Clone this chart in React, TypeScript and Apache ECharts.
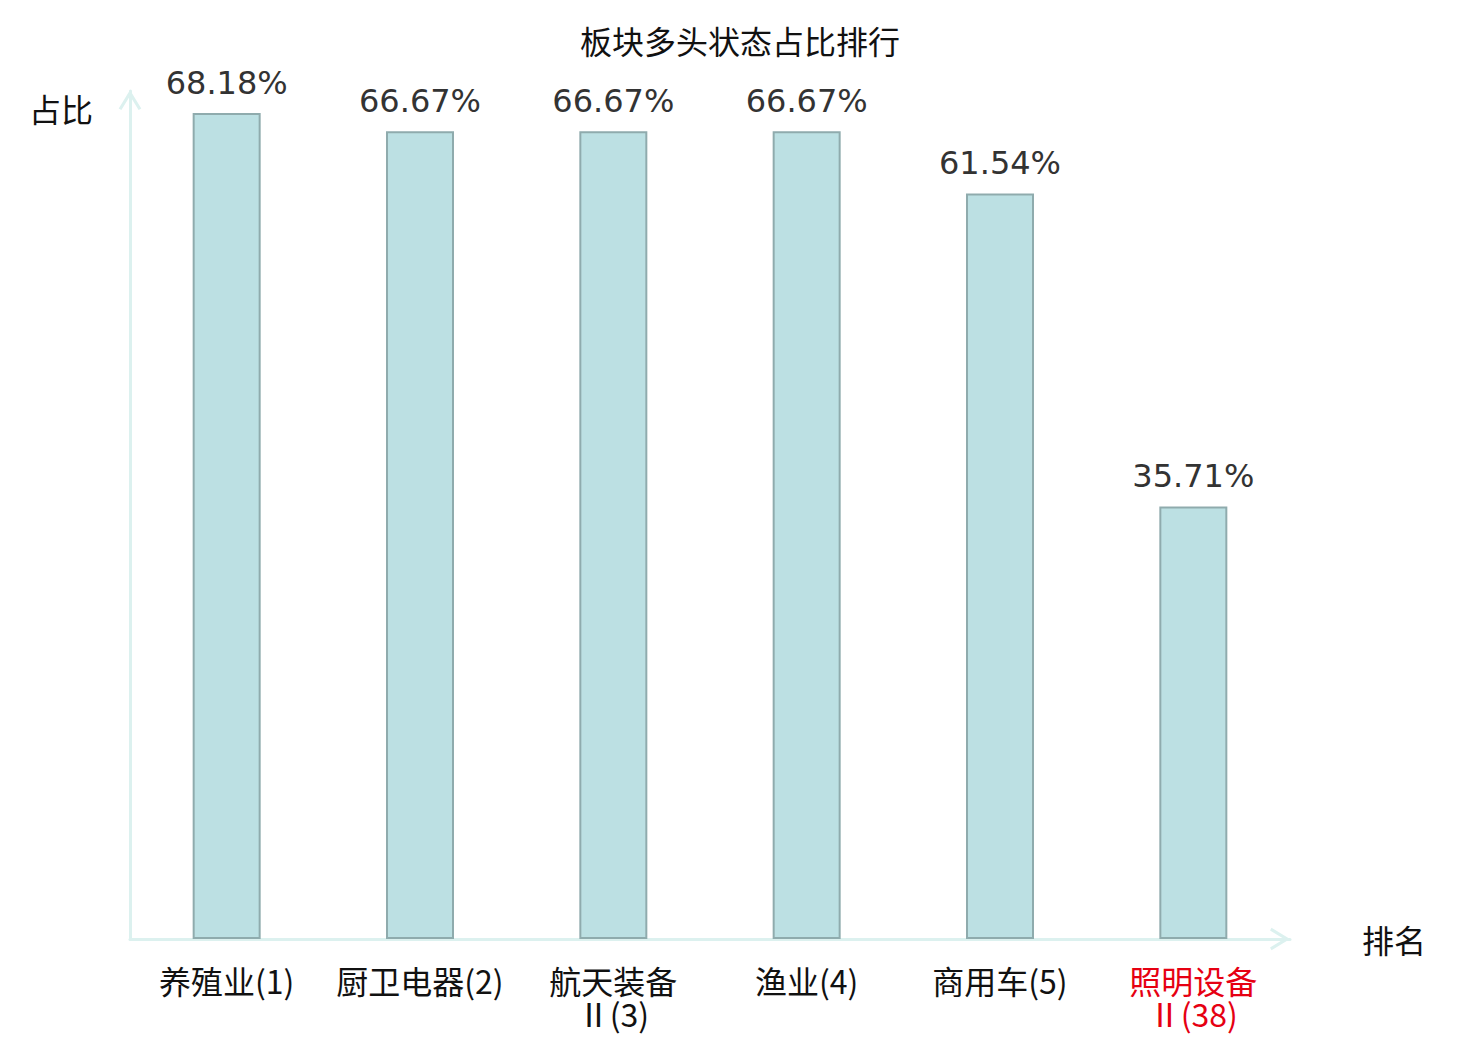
import React, { useEffect, useRef } from "react";
import * as echarts from "echarts";

const titleText = "板块多头状态占比排行";
const categories = ["养殖业(1)", "厨卫电器(2)", "航天装备Ⅱ(3)", "渔业(4)", "商用车(5)", "照明设备Ⅱ(38)"];
const values = [68.18, 66.67, 66.67, 66.67, 61.54, 35.71];
const highlightIndex = 5;
const xName = "排名";
const yName = "占比";

const arrowPath = "path://M12,0 L23,18 L20.4,19.5 L12,5.8 L3.6,19.5 L1,18 Z";
const axisColor = "#dcf1ef";
const cjk = "'Noto Sans CJK SC', sans-serif";

export default function App() {
  const ref = useRef<HTMLDivElement>(null);
  useEffect(() => {
    document.body.style.margin = "0";
    const chart = echarts.init(ref.current!, null, { renderer: "svg" });
    chart.setOption({
      animation: false,
      title: {
        text: titleText,
        left: "center",
        top: 24,
        padding: 0,
        textStyle: { fontFamily: cjk, fontSize: 32, fontWeight: "normal", color: "#111" },
      },
      grid: { left: 130, right: 190, top: 91, bottom: 101, containLabel: false },
      xAxis: {
        type: "category",
        data: categories.map((c, i) =>
          i === highlightIndex ? { value: c, textStyle: { color: "#e60012" } } : c
        ),
        name: xName,
        nameLocation: "end",
        nameGap: 72,
        nameTextStyle: { fontFamily: cjk, fontSize: 32, color: "#111", verticalAlign: "middle" },
        axisLine: {
          show: true,
          lineStyle: { color: axisColor, width: 3 },
          symbol: ["none", arrowPath],
          symbolSize: [24, 20],
          symbolOffset: [0, -10],
        },
        axisTick: { show: false },
        axisLabel: {
          interval: 0,
          margin: 24,
          fontFamily: cjk,
          fontSize: 32,
          color: "#111",
          lineHeight: 33,
          formatter: (v: string) => v.replace("Ⅱ", "\nⅡ"),
        },
        splitLine: { show: false },
      },
      yAxis: {
        type: "value",
        min: 0,
        max: 70,
        name: yName,
        nameLocation: "end",
        nameGap: -17,
        nameTextStyle: {
          fontFamily: cjk,
          fontSize: 32,
          color: "#111",
          align: "right",
          verticalAlign: "middle",
          padding: [0, 37, 0, 0],
        },
        axisLine: {
          show: true,
          lineStyle: { color: axisColor, width: 3 },
          symbol: ["none", arrowPath],
          symbolSize: [24, 20],
          symbolOffset: [0, -9],
        },
        axisTick: { show: false },
        axisLabel: { show: false },
        splitLine: { show: false },
      },
      series: [
        {
          type: "bar",
          data: values,
          barWidth: 68,
          itemStyle: { color: "#bce0e3", borderColor: "#8fabad", borderWidth: 2 },
          label: {
            show: true,
            position: "top",
            distance: 14,
            formatter: (p: any) => p.value.toFixed(2) + "%",
            fontFamily: "'DejaVu Sans', sans-serif",
            fontSize: 32,
            color: "#333",
          },
        },
      ],
    });
    return () => chart.dispose();
  }, []);
  return <div ref={ref} style={{ width: 1480, height: 1040 }} />;
}
